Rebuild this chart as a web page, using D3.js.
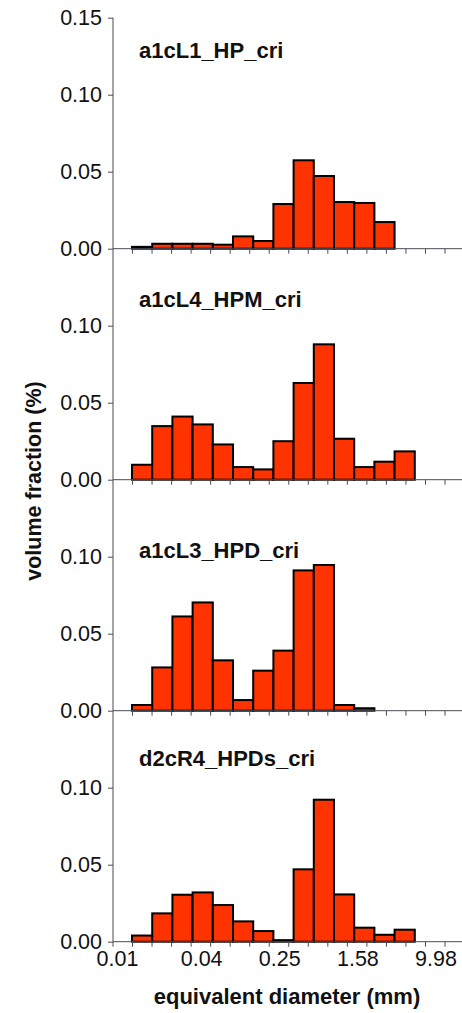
<!DOCTYPE html>
<html>
<head>
<meta charset="utf-8">
<script src="https://cdn.jsdelivr.net/npm/d3@7"></script>
<style>
  body { margin: 0; background: #fff; }
  svg { display: block; font-family: "Liberation Sans", Arial, sans-serif; }
  .tick text { font-size: 21.5px; fill: #111; }
  .tick line { stroke: #4a4a58; }
  .title { font-size: 22px; font-weight: bold; fill: #111; }
  .label { font-size: 21.5px; font-weight: bold; fill: #111; }
</style>
</head>
<body>
<svg width="462" height="1013"></svg>
<script>
const panelNames = ["a1cL1_HP_cri", "a1cL4_HPM_cri", "a1cL3_HPD_cri", "d2cR4_HPDs_cri"];

// volume fraction per size bin
const hpValues = [0.0012, 0.0032, 0.0032, 0.0032, 0.0026, 0.008, 0.005, 0.029, 0.0574, 0.0472, 0.0303, 0.0297, 0.0173];
const hpmValues = [0.0097, 0.0348, 0.041, 0.0359, 0.0229, 0.0082, 0.0067, 0.025, 0.0628, 0.0879, 0.0266, 0.0082, 0.0117, 0.0184];
const hpdValues = [0.0037, 0.0281, 0.0612, 0.0703, 0.0327, 0.0069, 0.026, 0.039, 0.0911, 0.0946, 0.0037, 0.0016];
const hpdsValues = [0.004, 0.0184, 0.0305, 0.032, 0.0238, 0.0132, 0.0069, 0.001, 0.047, 0.0922, 0.0307, 0.0091, 0.0045, 0.0078];

const xTickLabels = ["0.01", "0.04", "0.25", "1.58", "9.98"];
const yTicks = [0, 0.05, 0.10, 0.15];

// size bins (mm): first lower edge and ratio between edges
const binStart = 0.0063;
const binRatio = 1.61;

const series = [hpValues, hpmValues, hpdValues, hpdsValues];
const titleOffset = [40, 58, 78, 55];

const svg = d3.select("svg");
const W = 462;
const axisX = 113;
const top0 = 17.7;
const ph = 231;

// x tick values: every fifth of a decade, ending at 9.98
const xTicks = d3.range(17).map(k => 9.98 / Math.pow(10, 0.2 * (16 - k)));

const xScale = d3.scaleLog()
  .domain([xTicks[0], xTicks[16]])
  .range([132, 444.5]);

series.forEach((vals, p) => {
  const base = top0 + ph * (p + 1);
  const yScale = d3.scaleLinear().domain([0, 0.15]).range([base, base - ph]);
  const g = svg.append("g");

  const bins = vals.map((v, i) => ({
    x0: binStart * Math.pow(binRatio, i),
    x1: binStart * Math.pow(binRatio, i + 1),
    v: v
  }));

  g.selectAll("rect")
    .data(bins)
    .enter()
    .append("rect")
    .attr("x", d => xScale(d.x0))
    .attr("y", d => yScale(d.v))
    .attr("width", d => xScale(d.x1) - xScale(d.x0))
    .attr("height", d => base - yScale(d.v))
    .attr("fill", "#ff3300")
    .attr("stroke", "#000")
    .attr("stroke-width", 2);

  // x axis
  const xa = g.append("g")
    .attr("transform", `translate(0, ${base})`)
    .call(
      d3.axisBottom(xScale)
        .tickValues(xTicks)
        .tickSize(5)
        .tickPadding(4)
        .tickFormat((d, i) => (p === 3 && i % 4 === 0 ? xTickLabels[i / 4] : ""))
    );
  xa.select(".domain").remove();
  xa.selectAll(".tick text").attr("dx", (d, i) => (i === 0 ? -15 : -9));
  g.append("line")
    .attr("x1", axisX).attr("x2", W)
    .attr("y1", base).attr("y2", base)
    .attr("stroke", "#4a4a58");

  // y axis
  const ya = g.append("g")
    .attr("transform", `translate(${axisX}, 0)`)
    .call(
      d3.axisLeft(yScale)
        .tickValues(p === 0 ? yTicks : yTicks.slice(0, 3))
        .tickSize(5)
        .tickPadding(6)
        .tickFormat(d3.format(".2f"))
    );
  ya.select(".domain").remove();

  g.append("text")
    .attr("class", "title")
    .attr("x", 139)
    .attr("y", base - ph + titleOffset[p])
    .text(panelNames[p]);
});

svg.append("line")
  .attr("x1", axisX).attr("x2", axisX)
  .attr("y1", top0).attr("y2", top0 + 4 * ph + 5)
  .attr("stroke", "#4a4a58");

svg.append("text")
  .attr("class", "label")
  .attr("transform", "rotate(-90)")
  .attr("x", -481)
  .attr("y", 41)
  .attr("text-anchor", "middle")
  .text("volume fraction (%)");

svg.append("text")
  .attr("class", "label")
  .attr("x", 287)
  .attr("y", 1004)
  .attr("text-anchor", "middle")
  .style("font-size", "22px")
  .text("equivalent diameter (mm)");
</script>
</body>
</html>
